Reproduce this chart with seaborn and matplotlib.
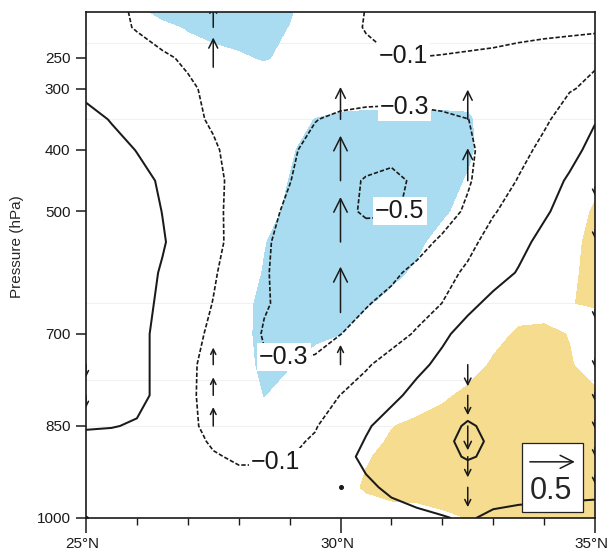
import numpy as np
import matplotlib
matplotlib.use("Agg")
import matplotlib.pyplot as plt
import matplotlib.transforms as mtransforms
from matplotlib.patches import Rectangle
import seaborn as sns

# ---------------- data ----------------
lats = [25.0, 25.5, 26.0, 26.5, 27.0, 27.5, 28.0, 28.5, 29.0, 29.5, 30.0,
        30.5, 31.0, 31.5, 32.0, 32.5, 33.0, 33.5, 34.0, 34.5, 35.0]
levs = [1000, 950, 900, 875, 850, 800, 750, 700, 650, 600, 550, 500, 450, 400,
        350, 300, 250, 200, 175]

# contoured anomaly field, one row per pressure level (lat 25N -> 35N)
w175 = [0.0, -0.06, -0.12, -0.16, -0.18, -0.2, -0.2, -0.2, -0.19, -0.16, -0.13, -0.098, -0.07, -0.05, -0.04, -0.04, -0.04, -0.05, -0.05, -0.05, -0.05]
w200 = [0.0, -0.06, -0.11, -0.16, -0.19, -0.21, -0.22, -0.21, -0.2, -0.17, -0.13, -0.095, -0.07, -0.06, -0.06, -0.065, -0.07, -0.08, -0.085, -0.09, -0.095]
w250 = [0.02, -0.01, -0.04, -0.08, -0.12, -0.16, -0.19, -0.2, -0.2, -0.18, -0.15, -0.12, -0.103, -0.101, -0.105, -0.11, -0.115, -0.12, -0.125, -0.125, -0.12]
w300 = [0.05, 0.03, 0.0, -0.04, -0.08, -0.13, -0.17, -0.18, -0.2, -0.21, -0.22, -0.225, -0.225, -0.22, -0.215, -0.2, -0.18, -0.16, -0.14, -0.11, -0.07]
w350 = [0.16, 0.09, 0.04, -0.01, -0.06, -0.12, -0.17, -0.22, -0.26, -0.295, -0.33, -0.35, -0.36, -0.35, -0.33, -0.302, -0.25, -0.18, -0.125, -0.03, 0.09]
w400 = [0.22, 0.16, 0.095, 0.04, -0.02, -0.08, -0.16, -0.23, -0.28, -0.34, -0.4, -0.44, -0.46, -0.44, -0.4, -0.33, -0.23, -0.15, -0.06, 0.05, 0.15]
w450 = [0.25, 0.2, 0.15, 0.08, 0.02, -0.06, -0.15, -0.23, -0.295, -0.38, -0.46, -0.51, -0.53, -0.48, -0.42, -0.32, -0.19, -0.09, 0.03, 0.12, 0.2]
w500 = [0.24, 0.2, 0.16, 0.098, 0.03, -0.06, -0.16, -0.25, -0.33, -0.41, -0.47, -0.515, -0.515, -0.47, -0.38, -0.27, -0.115, -0.02, 0.08, 0.16, 0.22]
w550 = [0.23, 0.2, 0.16, 0.11, 0.04, -0.05, -0.17, -0.28, -0.35, -0.4, -0.44, -0.45, -0.43, -0.36, -0.27, -0.15, -0.03, 0.06, 0.14, 0.2, 0.25]
w600 = [0.22, 0.19, 0.15, 0.09, 0.02, -0.08, -0.2, -0.29, -0.34, -0.37, -0.38, -0.37, -0.33, -0.26, -0.16, -0.07, 0.04, 0.11, 0.17, 0.22, 0.25]
w650 = [0.21, 0.18, 0.14, 0.08, 0.0, -0.105, -0.2, -0.29, -0.33, -0.35, -0.34, -0.31, -0.26, -0.18, -0.098, 0.06, 0.14, 0.19, 0.21, 0.22, 0.23]
w700 = [0.2, 0.17, 0.13, 0.07, -0.03, -0.14, -0.23, -0.31, -0.33, -0.33, -0.302, -0.25, -0.17, -0.08, 0.07, 0.16, 0.2, 0.21, 0.22, 0.22, 0.22]
w750 = [0.2, 0.17, 0.13, 0.07, -0.06, -0.17, -0.25, -0.285, -0.295, -0.285, -0.2, -0.12, -0.03, 0.06, 0.14, 0.2, 0.22, 0.23, 0.23, 0.23, 0.23]
w800 = [0.2, 0.17, 0.13, 0.07, -0.07, -0.16, -0.2, -0.21, -0.2, -0.16, -0.098, -0.02, 0.06, 0.15, 0.2, 0.25, 0.24, 0.23, 0.22, 0.22, 0.22]
w850 = [0.11, 0.105, 0.09, 0.04, -0.07, -0.14, -0.17, -0.16, -0.14, -0.11, -0.02, 0.08, 0.17, 0.22, 0.27, 0.31, 0.28, 0.26, 0.25, 0.24, 0.23]
w875 = [0.07, 0.065, 0.055, 0.02, -0.06, -0.115, -0.145, -0.14, -0.125, -0.085, 0.01, 0.11, 0.185, 0.23, 0.27, 0.335, 0.28, 0.255, 0.245, 0.235, 0.225]
w900 = [0.04, 0.03, 0.02, 0.0, -0.05, -0.09, -0.115, -0.115, -0.105, -0.06, 0.04, 0.14, 0.2, 0.24, 0.27, 0.31, 0.28, 0.25, 0.24, 0.23, 0.22]
w950 = [0.02, 0.015, 0.01, 0.0, -0.03, -0.05, -0.06, -0.06, -0.05, -0.03, 0.0, 0.07, 0.13, 0.18, 0.2, 0.22, 0.2, 0.18, 0.16, 0.15, 0.14]
w1000 = [0.0, 0.0, 0.0, -0.01, -0.02, -0.03, -0.03, -0.03, -0.02, -0.01, 0.0, 0.02, 0.04, 0.06, 0.09, 0.12, 0.06, 0.04, 0.04, 0.04, 0.04]

# significance indicator (<= -1 significant negative, >= 1 significant positive)
s175 = [0, 0, -0.6, -1.4, -1.6, -1.8, -1.8, -1.6, -1.15, 0, 0, 0, 0, 0, 0, 0, 0, 0, 0, 0, 0]
s200 = [0, 0, 0, -0.6, -1.1, -1.5, -1.6, -1.5, -0.95, 0, 0, 0, 0, 0, 0, 0, 0, 0, 0, 0, 0]
s250 = [0, 0, 0, 0, -0.3, -0.5, -0.8, -1.1, -0.7, 0, 0, 0, 0, 0, 0, 0, 0, 0, 0, 0, 0]
s300 = [0, 0, 0, 0, 0, 0, 0, 0, 0, -0.3, -0.5, -0.5, -0.5, -0.5, -0.5, -0.5, 0, 0, 0, 0, 0]
s350 = [0, 0, 0, 0, 0, 0, 0, 0, -0.6, -1.02, -1.15, -1.2, -1.2, -1.2, -1.2, -1.15, -0.4, 0, 0, 0, 0]
s400 = [0, 0, 0, 0, 0, 0, 0, -0.4, -0.9, -1.3, -1.5, -1.5, -1.5, -1.5, -1.5, -1.2, -0.3, 0, 0, 0, 0]
s450 = [0, 0, 0, 0, 0, 0, 0, -0.6, -1.02, -1.4, -1.6, -1.6, -1.6, -1.6, -1.4, -0.9, -0.2, 0, 0, 0, 0.7]
s500 = [0, 0, 0, 0, 0, 0, 0, -0.8, -1.1, -1.5, -1.5, -1.5, -1.5, -1.5, -1.2, -0.5, 0, 0, 0, 0.4, 1.15]
s550 = [0, 0, 0, 0, 0, 0, -0.4, -0.95, -1.4, -1.4, -1.4, -1.4, -1.4, -1.25, -0.5, 0, 0, 0, 0, 0.65, 1.35]
s600 = [0, 0, 0, 0, 0, 0, -0.5, -1.05, -1.4, -1.4, -1.4, -1.4, -1.25, -0.8, -0.3, 0, 0, 0, 0.2, 0.75, 1.4]
s650 = [0, 0, 0, 0, 0, 0, -0.7, -1.2, -1.3, -1.3, -1.3, -1.1, -0.7, -0.2, 0, 0, 0, 0.55, 0.4, 0.97, 1.1]
s700 = [0, 0, 0, 0, 0, 0, -0.75, -1.2, -1.2, -1.15, -1.01, -0.5, -0.1, 0, 0, 0, 0.65, 1.15, 1.3, 0.95, 0.4]
s750 = [0, 0, 0, 0, 0, 0, -0.7, -1.15, -1.05, -0.7, -0.3, 0, 0, 0, 0, 0.5, 1.15, 1.4, 1.4, 1.1, 0.5]
s800 = [0, 0, 0, 0, 0, 0, -0.4, -1.02, -0.6, -0.2, 0, 0, 0, 0.3, 0.8, 1.25, 1.5, 1.5, 1.5, 1.5, 1.2]
s850 = [0, 0, 0, 0, 0, 0, 0, -0.4, 0, 0, 0, 0.3, 0.95, 1.3, 1.5, 1.5, 1.5, 1.5, 1.5, 1.5, 1.5]
s875 = [0, 0, 0, 0, 0, 0, 0, -0.2, 0, 0, 0.1, 0.6, 1.15, 1.4, 1.5, 1.5, 1.5, 1.5, 1.5, 1.5, 1.5]
s900 = [0, 0, 0, 0, 0, 0, 0, 0, 0, 0, 0.2, 0.9, 1.3, 1.5, 1.5, 1.5, 1.5, 1.5, 1.5, 1.5, 1.5]
s950 = [0, 0, 0, 0, 0, 0, 0, 0, 0, 0, 0.5, 1.15, 1.4, 1.4, 1.4, 1.4, 1.4, 1.4, 1.4, 1.4, 1.4]
s1000 = [0, 0, 0, 0, 0, 0, 0, 0, 0, 0, 0, 0.3, 0.5, 0.6, 0.85, 1.01, 1.3, 1.3, 1.3, 1.3, 1.3]

# vertical-motion vectors (tail position, positive = upward)
vec_lat = [27.5, 27.5, 27.5, 27.5, 27.5,
           30, 30, 30, 30, 30, 30,
           32.5, 32.5, 32.5, 32.5, 32.5, 32.5, 32.5,
           35, 35, 35, 35, 35, 35, 35, 35,
           25, 25, 25]
vec_lev = [200, 265, 750, 800, 850,
           350, 450, 550, 665, 750, 950,
           350, 450, 750, 800, 850, 900, 950,
           460, 530, 660, 740, 795, 840, 885, 930,
           750, 800, 1000]
vec_w = [0.25, 0.33, 0.19, 0.2, 0.21,
         0.36, 0.5, 0.5, 0.51, 0.22, 0.0,
         0.33, 0.36, -0.24, -0.22, -0.27, -0.23, -0.22,
         -0.1, -0.1, -0.1, -0.1, -0.1, -0.1, -0.1, -0.1,
         -0.14, -0.14, 0.0]

ref_mag = 0.5
contour_levels = [-0.5, -0.3, -0.1, 0.1, 0.3]
labelled_levels = [-0.5, -0.3, -0.1]
x_ticks = [25, 30, 35]
x_ticklabels = ["25°N", "30°N", "35°N"]
y_ticks = [250, 300, 400, 500, 700, 850, 1000]
faint_levels = [225, 350, 650, 775, 850]

# ---------------- layout / style ----------------
label_pos = [(31.23, 259), (28.73, 910), (31.26, 331), (28.75, 758), (31.26, 510)]
BLUE = "#a9dcf0"
YELLOW = "#f5dc8e"
PX_PER_UNIT = 90.0  # arrow length in pixels per unit of vector

sns.set_theme(style="ticks")
plt.rcParams["font.family"] = ["Liberation Sans", "DejaVu Sans"]

fig = plt.figure(figsize=(6.1, 5.55), dpi=100)
ax = fig.add_axes([86 / 610, 37 / 555, 509 / 610, 506 / 555])

field = np.array([w1000, w950, w900, w875, w850, w800, w750, w700, w650, w600,
                  w550, w500, w450, w400, w350, w300, w250, w200, w175])
sig = np.array([s1000, s950, s900, s875, s850, s800, s750, s700, s650, s600,
                s550, s500, s450, s400, s350, s300, s250, s200, s175])

for lv in faint_levels:
    ax.axhline(lv, color="#f1f1f1", lw=0.8, zorder=0.5)

ax.contourf(lats, levs, sig, levels=[-9, -1], colors=[BLUE], zorder=1)
ax.contourf(lats, levs, sig, levels=[1, 9], colors=[YELLOW], zorder=1)

dash = (0, (2.6, 1.2))
cs = ax.contour(lats, levs, field, levels=contour_levels, colors="k",
                linewidths=[1.2, 1.2, 1.2, 1.45, 1.45],
                linestyles=[dash, dash, dash, "solid", "solid"], zorder=2)


def fmt(v):
    return f"{v:.1f}".replace("-", "\u2212")


texts = ax.clabel(cs, levels=labelled_levels, manual=label_pos, inline=False,
                  fmt=fmt, fontsize=18)
for t in texts:
    t.set_rotation(0)
    t.set_bbox(dict(boxstyle="square,pad=0.08", fc="white", ec="none"))
    t.set_zorder(5)


def draw_vector(x, p, w):
    L = w * PX_PER_UNIT
    head_px = max(5.0, 0.3 * abs(L))
    hl = head_px * 0.72
    hw = 0.5 * hl
    tr = mtransforms.offset_copy(ax.transData, fig=fig, x=0, y=L, units="dots")
    ann = ax.annotate("", xy=(x, p), xycoords=tr, xytext=(x, p),
                      textcoords="data",
                      arrowprops=dict(arrowstyle=f"->,head_length={hl},head_width={hw}",
                                      lw=1.1, color="k", shrinkA=0, shrinkB=0,
                                      mutation_scale=1),
                      zorder=3)
    ann.arrow_patch.set_clip_box(ax.bbox)
    return ann


for x, p, w in zip(vec_lat, vec_lev, vec_w):
    if abs(w) < 0.02:
        ax.plot([x], [p], "o", ms=2.6, color="k", zorder=3)
    else:
        draw_vector(x, p, w)

# reference vector box
ax.add_patch(Rectangle((0.857, 0.012), 0.119, 0.136, transform=ax.transAxes,
                       fc="white", ec="#222222", lw=0.9, zorder=6))
key_tr = mtransforms.offset_copy(ax.transAxes, fig=fig, x=ref_mag * PX_PER_UNIT,
                                 y=0, units="dots")
ax.annotate("", xy=(0.872, 0.111), xycoords=key_tr, xytext=(0.872, 0.111),
            textcoords="axes fraction",
            arrowprops=dict(arrowstyle=f"->,head_length={13 * 0.72},head_width={6.5 * 0.72}",
                            lw=1.1, color="k", shrinkA=0, shrinkB=0,
                            mutation_scale=1), zorder=7)
ax.text(0.9136, 0.054, f"{ref_mag}", transform=ax.transAxes, ha="center",
        va="center", fontsize=22, zorder=7)

# axes
ax.set_xlim(25, 35)
ax.set_ylim(1000, 175)
ax.set_xticks(x_ticks)
ax.set_xticklabels(x_ticklabels)
ax.set_xticks(np.arange(25, 36, 1), minor=True)
ax.set_yticks(y_ticks)
ax.set_yticklabels([str(v) for v in y_ticks])
ax.tick_params(axis="x", which="major", length=10.8, width=1.1, pad=3,
               labelsize=11, colors="k", direction="out")
ax.tick_params(axis="x", which="minor", length=5, width=1.0, direction="out", colors="k")
ax.tick_params(axis="y", which="major", length=7.2, width=1.1, pad=4,
               labelsize=11, colors="k", direction="out")
ax.tick_params(axis="y", which="minor", left=False)
shift = mtransforms.ScaledTranslation(-3.5 / 100, 0, fig.dpi_scale_trans)
for lab in ax.get_xticklabels():
    lab.set_transform(lab.get_transform() + shift)
for sp in ax.spines.values():
    sp.set_linewidth(1.2)
    sp.set_color("k")
ax.set_ylabel("Pressure (hPa)", fontsize=11)
ax.yaxis.set_label_coords(-0.122, 0.537)
ax.set_facecolor("white")

fig.savefig("out.png", dpi=100, facecolor="white")
